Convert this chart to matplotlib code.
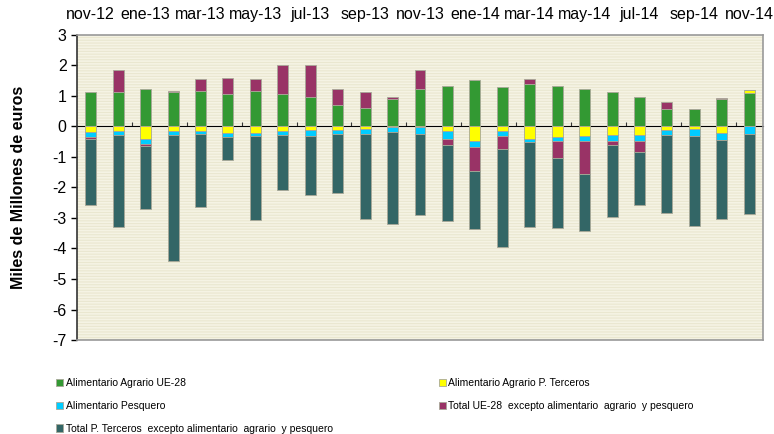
import matplotlib.pyplot as plt
import matplotlib.patches as mpatches
import numpy as np

plt.rcParams['font.family'] = ['Liberation Sans', 'DejaVu Sans']
plt.rcParams['axes.unicode_minus'] = False
plt.rcParams['hatch.linewidth'] = 0.8

months = ['nov-12', 'dic-12', 'ene-13', 'feb-13', 'mar-13', 'abr-13', 'may-13',
          'jun-13', 'jul-13', 'ago-13', 'sep-13', 'oct-13', 'nov-13', 'dic-13',
          'ene-14', 'feb-14', 'mar-14', 'abr-14', 'may-14', 'jun-14', 'jul-14',
          'ago-14', 'sep-14', 'oct-14', 'nov-14']

# saldo comercial, miles de millones de euros
agrario_ue = [1.12, 1.13, 1.23, 1.13, 1.16, 1.08, 1.16, 1.05, 0.96, 0.71, 0.61, 0.89, 1.23,
              1.33, 1.53, 1.30, 1.38, 1.33, 1.23, 1.13, 0.98, 0.56, 0.56, 0.89, 1.10]
agrario_pt = [-0.19, -0.15, -0.40, -0.14, -0.15, -0.21, -0.21, -0.14, -0.11, -0.10, -0.08, -0.03, -0.02,
              -0.14, -0.46, -0.15, -0.40, -0.33, -0.31, -0.27, -0.27, -0.11, -0.07, -0.21, 0.11]
pesquero = [-0.16, -0.14, -0.16, -0.13, -0.09, -0.12, -0.11, -0.13, -0.19, -0.15, -0.18, -0.16, -0.23,
            -0.26, -0.20, -0.15, -0.11, -0.13, -0.15, -0.19, -0.22, -0.16, -0.23, -0.22, -0.24]
resto_ue = [-0.05, 0.71, -0.09, 0.04, 0.40, 0.50, 0.40, 0.95, 1.04, 0.52, 0.52, 0.09, 0.61,
            -0.20, -0.79, -0.45, 0.18, -0.58, -1.10, -0.14, -0.35, 0.25, 0.0, 0.03, 0.0]
resto_pt = [-2.19, -3.00, -2.04, -4.15, -2.40, -0.77, -2.74, -1.81, -1.93, -1.92, -2.77, -3.01, -2.64,
            -2.50, -1.92, -3.20, -2.79, -2.30, -1.88, -2.37, -1.75, -2.57, -2.95, -2.61, -2.63]

series = [
    (agrario_ue, '#339933', 'Alimentario Agrario UE-28'),
    (agrario_pt, '#FFFF00', 'Alimentario Agrario P. Terceros'),
    (pesquero, '#00CCFF', 'Alimentario Pesquero'),
    (resto_ue, '#993366', 'Total UE-28  excepto alimentario  agrario  y pesquero'),
    (resto_pt, '#336666', 'Total P. Terceros  excepto alimentario  agrario  y pesquero'),
]

fig = plt.figure(figsize=(7.74, 4.34), dpi=100)
ax = fig.add_axes([77 / 774, 94 / 434, 686 / 774, 305 / 434])
ax.set_facecolor('#F5F3E4')
ax.add_patch(mpatches.Rectangle((0, 0), 1, 1, transform=ax.transAxes, facecolor='none',
                                edgecolor='#EAE7D0', hatch='------', lw=0, zorder=0))

x = np.arange(len(months))
pos = np.zeros(len(months))
neg = np.zeros(len(months))
handles = []
for vals, col, lab in series:
    v = np.array(vals)
    base = np.where(v >= 0, pos, neg)
    b = ax.bar(x, v, width=0.4, bottom=base, color=col, edgecolor='#A8A898', linewidth=0.6,
               label=lab, zorder=2)
    handles.append(b)
    pos = pos + np.where(v >= 0, v, 0)
    neg = neg + np.where(v < 0, v, 0)

ax.set_xlim(-0.5, len(months) - 0.5)
ax.set_ylim(-7, 3)
ax.set_yticks(range(-7, 4))
ax.tick_params(axis='y', labelsize=11.5, length=4, direction='out', width=1)
ax.set_ylabel('Miles de Millones de euros', fontsize=11.5, fontweight='bold', labelpad=19)

ax.set_xticks(x[::2])
ax.set_xticklabels(months[::2], fontsize=11.5)
ax.tick_params(axis='x', top=False, bottom=False, labeltop=True, labelbottom=False, pad=6)

zero_ax = ax.secondary_xaxis(0.7)
zero_ax.set_xticks(np.arange(1.5, len(months), 2))
zero_ax.set_xticklabels([])
zero_ax.tick_params(axis='x', length=3, direction='out', color='#333333')
zero_ax.spines['bottom'].set_color('#222222')
zero_ax.spines['bottom'].set_linewidth(1)

ax.spines['left'].set_color('#333333')
ax.spines['left'].set_linewidth(1.2)
for s in ['top', 'right', 'bottom']:
    ax.spines[s].set_color('#999999')
    ax.spines[s].set_linewidth(1.2)

order = [0, 2, 4, 1, 3]
fig.legend([handles[i] for i in order], [series[i][2] for i in order],
           loc='upper left', bbox_to_anchor=(52 / 774, 1 - 374 / 434), ncol=2,
           frameon=False, fontsize=7.5, handlelength=0.7, handleheight=0.7,
           handletextpad=0.2, labelspacing=1.22, columnspacing=10.2, borderaxespad=0)

fig.savefig('out.png', dpi=100)
